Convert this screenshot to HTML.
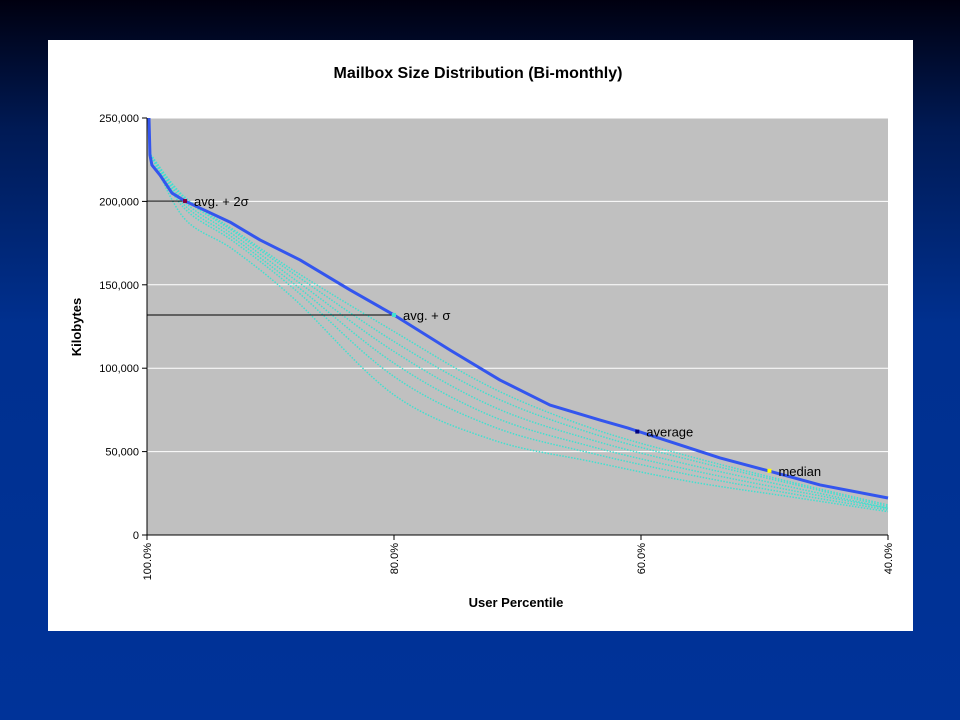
<!DOCTYPE html>
<html><head><meta charset="utf-8"><style>
body{margin:0;width:960px;height:720px;overflow:hidden;background:linear-gradient(180deg,#000010 0%,#001a55 18%,#00308f 45%,#003399 100%);font-family:"Liberation Sans",Arial,sans-serif}
#panel{position:absolute;left:48px;top:40px;width:865px;height:591px;background:#fff}
</style></head><body>
<div id="panel"></div>
<svg id="chart" width="960" height="720" style="position:absolute;left:0;top:0"></svg>
<script>
const pct=[99.84,99.76,99.6,98.95,97.98,96.92,95.71,93.28,90.85,87.61,83.56,80,75.47,71.42,67.37,63.32,61.05,56.84,53.6,49.96,45.5,40];
const mainKB=[250000,227800,221800,215800,205000,200200,196000,187600,176900,164900,146900,131900,110900,92900,77900,68900,64100,54000,46200,39000,30000,22200];
const cyanPct=[99.7,97,93,88,80,72,64,56,48,40];
const cyanA=[228,190,171,141,84,57,44,32,23,14];
const cyanB=[228,196,176,147,95,65,49,36,25,15];
const cyanC=[228,198,178,150,103,71,53,39,27,16];
const cyanD=[228,200,180,153,110,77,57,42,29,16];
const cyanE=[228,202,182,156,116,83,61,45,31,17];
const cyanF=[228,203,183,158,122,88,64,47,32,18];
const yTicks=[0,50000,100000,150000,200000,250000];
const xTicks=[100,80,60,40];
const marks=[["avg. + 2σ",96.92,200200,"#800040"],["avg. + σ",80,131900,"#40e0d0"],["average",60.3,62000,"#000080"],["median",49.6,38500,"#ffff00"]];
const refLines=[[200200,96.92],[131900,80]];
const X0=147,X1=888,Y0=535,Y1=118;
const sx=p=>X0+(100-p)/60*(X1-X0);
const sy=v=>Y0-v/250000*(Y0-Y1);
const svg=document.getElementById('chart');
const NS='http://www.w3.org/2000/svg';
function mk(t,a){const e=document.createElementNS(NS,t);for(const k in a)e.setAttribute(k,a[k]);svg.appendChild(e);return e;}
function smooth(pts){let d='M'+pts[0][0]+','+pts[0][1];for(let i=0;i<pts.length-1;i++){const p0=pts[i-1]||pts[i],p1=pts[i],p2=pts[i+1],p3=pts[i+2]||p2;d+=' C'+(p1[0]+(p2[0]-p0[0])/6)+','+(p1[1]+(p2[1]-p0[1])/6)+' '+(p2[0]-(p3[0]-p1[0])/6)+','+(p2[1]-(p3[1]-p1[1])/6)+' '+p2[0]+','+p2[1];}return d;}
let t=mk('text',{x:478,y:78,'text-anchor':'middle','font-size':16,'font-weight':'bold'});t.textContent='Mailbox Size Distribution (Bi-monthly)';

let r=mk('rect',{x:X0,y:Y1,width:X1-X0,height:Y0-Y1,fill:'#c0c0c0'});

yTicks.forEach(v=>{
 if(v>0){const g=mk('line',{x1:X0,x2:X1,y1:sy(v),y2:sy(v),stroke:'#fff','stroke-width':1});}
 mk('line',{x1:X0-5,x2:X0,y1:sy(v),y2:sy(v),stroke:'#000'});
 const l=mk('text',{x:X0-8,y:sy(v)+4,'text-anchor':'end','font-size':11});l.textContent=v.toLocaleString('en-US');
 
});
xTicks.forEach(p=>{
 mk('line',{x1:sx(p),x2:sx(p),y1:Y0,y2:Y0+5,stroke:'#000'});
 const l=mk('text',{x:0,y:0,'text-anchor':'end','font-size':11,transform:`translate(${sx(p)+4},${Y0+8}) rotate(-90)`});l.textContent=p.toFixed(1)+'%';
 
});
mk('line',{x1:X0,x2:X0,y1:Y1,y2:Y0,stroke:'#000'});mk('line',{x1:X0,x2:X1,y1:Y0,y2:Y0,stroke:'#000'});
[cyanA,cyanB,cyanC,cyanD,cyanE,cyanF].forEach(s=>{
 const pts=[[sx(99.84),sy(250000)]].concat(cyanPct.map((p,i)=>[sx(p),sy(s[i]*1000)]));
 const c=mk('path',{d:smooth(pts.slice(1)),fill:'none',stroke:'#40e0d0','stroke-width':1.5,'stroke-dasharray':'1.5 1.5'});
 
});
refLines.forEach(([v,p])=>{const l=mk('line',{x1:X0,x2:sx(p),y1:sy(v),y2:sy(v),stroke:'#000','stroke-width':1});});
const mp=mk('path',{d:'M'+pct.map((p,i)=>sx(p)+','+sy(mainKB[i])).join(' L'),fill:'none',stroke:'#3355ee','stroke-width':3,'stroke-linejoin':'round'});

marks.forEach(([n,p,v,c])=>{
 const m=mk('rect',{x:sx(p)-2,y:sy(v)-2,width:4,height:4,fill:c});
 const l=mk('text',{x:sx(p)+9,y:sy(v)+5,'font-size':13});l.textContent=n;
});
let yt=mk('text',{x:0,y:0,'text-anchor':'middle','font-size':13,'font-weight':'bold',transform:'translate(81,327) rotate(-90)'});yt.textContent='Kilobytes';

let xt=mk('text',{x:516,y:607,'text-anchor':'middle','font-size':13,'font-weight':'bold'});xt.textContent='User Percentile';

</script>
</body></html>
